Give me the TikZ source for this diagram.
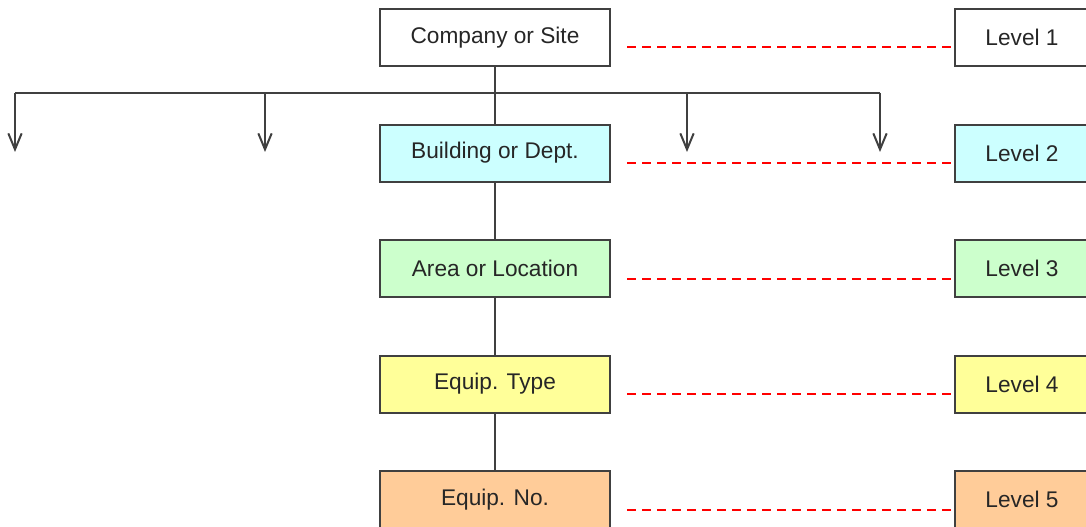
\documentclass[tikz,border=0pt]{standalone}
\usepackage{fontspec}
\setmainfont{Liberation Sans}
\usetikzlibrary{positioning,arrows.meta}

\definecolor{bldg}{HTML}{CCFFFF}
\definecolor{area}{HTML}{CCFFCC}
\definecolor{etype}{HTML}{FFFF99}
\definecolor{eno}{HTML}{FFCC99}

\begin{document}
\begin{tikzpicture}[x=0.75pt,y=-0.75pt,node distance=43.9pt and 258.75pt,
  box/.style={draw=black!75,line width=1.5pt,minimum width=172.5pt,minimum height=42.75pt,
    outer sep=0pt,inner sep=0pt,text=black!85,font=\fontsize{17}{20}\selectfont},
  lvl/.style={box,minimum width=100.5pt},
  link/.style={draw=red,line width=1.5pt,dash pattern=on 6.75pt off 4.5pt},
  tree/.style={draw=black!75,line width=1.5pt}]
\clip (0,0) rectangle (1086,527);
\node[box] (c1) at (495,37.5) {Company or Site};
\node[box,below=of c1,fill=bldg] (c2) {Building or Dept.};
\node[box,below=of c2,fill=area] (c3) {Area or Location};
\node[box,below=of c3,fill=etype] (c4) {Equip. Type};
\node[box,below=of c4,fill=eno] (c5) {Equip. No.};
\node[lvl,right=of c1] (l1) {Level 1};
\node[lvl,right=of c2,fill=bldg] (l2) {Level 2};
\node[lvl,right=of c3,fill=area] (l3) {Level 3};
\node[lvl,right=of c4,fill=etype] (l4) {Level 4};
\node[lvl,right=of c5,fill=eno] (l5) {Level 5};
% branch points and arrow ends
\coordinate (a1) at (15,93);
\coordinate (a2) at (265,93);
\coordinate (a3) at (687,93);
\coordinate (a4) at (880,93);
\coordinate (t1) at (15,152);
\coordinate (t2) at (265,152);
\coordinate (t3) at (687,152);
\coordinate (t4) at (880,152);
\path[tree] (c1) -- (c2) -- (c3) -- (c4) -- (c5);
\path[tree] (a1) -- (a4);
\foreach \i in {1,...,4}
  \path[tree,-{Straight Barb[length=12pt,width=10pt]}] (a\i) -- (t\i);
\foreach \i in {1,...,5}
  \path[link] ([xshift=12.75pt,yshift=-7.5pt]c\i.east) -- ([yshift=-7.5pt]l\i.west);
\end{tikzpicture}
\end{document}
